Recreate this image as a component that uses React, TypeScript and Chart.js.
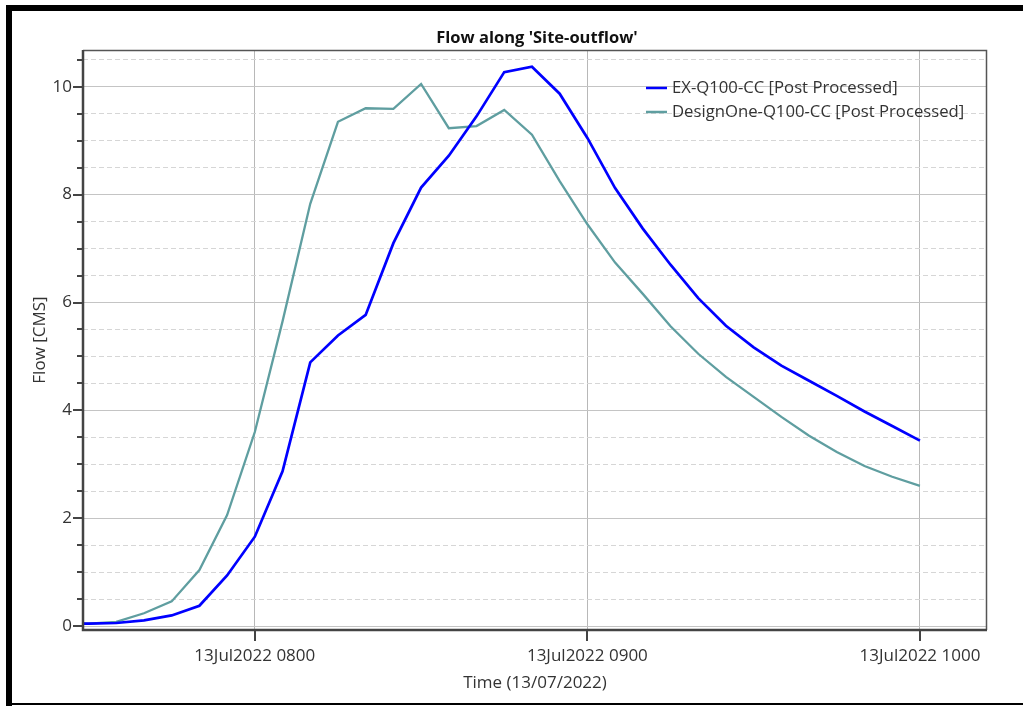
import React, { useEffect, useRef } from 'react';
import { Chart, registerables } from 'chart.js';

Chart.register(...registerables);

// ---- data ----
const times = [
  '07:25', '07:30', '07:35', '07:40', '07:45', '07:50', '07:55', '08:00',
  '08:05', '08:10', '08:15', '08:20', '08:25', '08:30', '08:35', '08:40',
  '08:45', '08:50', '08:55', '09:00', '09:05', '09:10', '09:15', '09:20',
  '09:25', '09:30', '09:35', '09:40', '09:45', '09:50', '09:55', '10:00',
];
const exFlow = [
  0.04, 0.05, 0.06, 0.11, 0.2, 0.38, 0.94, 1.66,
  2.87, 4.89, 5.39, 5.77, 7.1, 8.13, 8.72, 9.45,
  10.27, 10.37, 9.87, 9.05, 8.12, 7.37, 6.7, 6.08,
  5.57, 5.17, 4.83, 4.55, 4.27, 3.98, 3.71, 3.44,
];
const designFlow = [
  0.04, 0.05, 0.08, 0.24, 0.46, 1.04, 2.06, 3.6,
  5.65, 7.83, 9.35, 9.6, 9.59, 10.05, 9.23, 9.27,
  9.57, 9.11, 8.25, 7.45, 6.74, 6.16, 5.56, 5.05,
  4.62, 4.25, 3.88, 3.53, 3.23, 2.97, 2.77, 2.6,
];
const seriesLabels = ['EX-Q100-CC [Post Processed]', 'DesignOne-Q100-CC [Post Processed]'];
const seriesColors = ['#0000ff', '#5f9ea0'];
const xTickTimes = ['08:00', '09:00', '10:00'];
const xTickLabels = ['13Jul2022 0800', '13Jul2022 0900', '13Jul2022 1000'];
const yTickLabels = ['0', '2', '4', '6', '8', '10'];
const yMinorStep = 0.5;
const chartTitle = "Flow along 'Site-outflow'";
const xAxisTitle = 'Time (13/07/2022)';
const yAxisTitle = 'Flow [CMS]';

const FONT = "'Open Sans', 'Noto Sans', sans-serif";

function toMinutes(t: string): number {
  const [h, m] = t.split(':').map(Number);
  return (h - 7) * 60 + m;
}

const xTickValues = xTickTimes.map(toMinutes);
const yTickValues = yTickLabels.map(Number);

const decorPlugin = {
  id: 'decor',
  afterDraw(chart: any) {
    const { ctx, chartArea: a, scales } = chart;
    const xs = scales.x;
    const ys = scales.y;
    ctx.save();

    // plot frame
    ctx.strokeStyle = '#555555';
    ctx.lineWidth = 1.5;
    ctx.beginPath();
    ctx.moveTo(a.left, a.top + 0.5);
    ctx.lineTo(a.right - 0.5, a.top + 0.5);
    ctx.lineTo(a.right - 0.5, a.bottom);
    ctx.stroke();
    ctx.strokeStyle = '#444444';
    ctx.lineWidth = 2.5;
    ctx.beginPath();
    ctx.moveTo(a.left, a.top);
    ctx.lineTo(a.left, a.bottom);
    ctx.lineTo(a.right, a.bottom);
    ctx.stroke();

    // y tick marks
    ctx.strokeStyle = '#444444';
    ctx.lineWidth = 2;
    for (const t of ys.ticks) {
      const y = Math.round(ys.getPixelForValue(t.value));
      const major = yTickValues.some((v) => Math.abs(v - t.value) < 1e-6);
      ctx.beginPath();
      ctx.moveTo(a.left - (major ? 10 : 6), y);
      ctx.lineTo(a.left, y);
      ctx.stroke();
    }
    // x tick marks
    for (const v of xTickValues) {
      const x = Math.round(xs.getPixelForValue(v));
      ctx.beginPath();
      ctx.moveTo(x, a.bottom);
      ctx.lineTo(x, a.bottom + 11);
      ctx.stroke();
    }

    // title
    ctx.fillStyle = '#111111';
    ctx.font = `bold 16.5px ${FONT}`;
    ctx.textAlign = 'center';
    ctx.textBaseline = 'middle';
    ctx.fillText(chartTitle, 537, 38);

    // axis titles
    ctx.fillStyle = '#333333';
    ctx.font = `17px ${FONT}`;
    ctx.fillText(xAxisTitle, (a.left + a.right) / 2, 683);
    ctx.save();
    ctx.translate(40, (a.top + a.bottom) / 2);
    ctx.rotate(-Math.PI / 2);
    ctx.fillText(yAxisTitle, 0, 0);
    ctx.restore();

    // legend
    ctx.textAlign = 'left';
    ctx.font = `16.7px ${FONT}`;
    seriesLabels.forEach((lab, i) => {
      const y = 88 + i * 24;
      ctx.strokeStyle = seriesColors[i];
      ctx.lineWidth = 2.5;
      ctx.beginPath();
      ctx.moveTo(646, y);
      ctx.lineTo(667, y);
      ctx.stroke();
      ctx.fillStyle = '#333333';
      ctx.fillText(lab, 672, y);
    });

    // outer black border
    ctx.fillStyle = '#000000';
    ctx.fillRect(6, 5, 1023 - 6, 6);
    ctx.fillRect(6, 5, 6, 706 - 5);
    ctx.fillRect(6, 703, 1023 - 6, 2);

    ctx.restore();
  },
};

export default function App() {
  const ref = useRef<HTMLCanvasElement | null>(null);

  useEffect(() => {
    if (!ref.current) return;
    const mins = times.map(toMinutes);
    const chart = new Chart(ref.current, {
      type: 'line',
      data: {
        datasets: [
          {
            label: seriesLabels[0],
            data: mins.map((m, i) => ({ x: m, y: exFlow[i] })),
            borderColor: seriesColors[0],
            borderWidth: 2.7,
            pointRadius: 0,
            tension: 0,
            fill: false,
          },
          {
            label: seriesLabels[1],
            data: mins.map((m, i) => ({ x: m, y: designFlow[i] })),
            borderColor: seriesColors[1],
            borderWidth: 2.3,
            pointRadius: 0,
            tension: 0,
            fill: false,
          },
        ],
      },
      options: {
        animation: false,
        responsive: false,
        layout: { padding: { left: 0, top: 50, right: 36, bottom: 0 } },
        plugins: {
          legend: { display: false },
          title: { display: false },
          tooltip: { enabled: false },
        },
        scales: {
          x: {
            type: 'linear',
            min: 29,
            max: 192.1,
            afterBuildTicks: (s: any) => {
              s.ticks = xTickValues.map((v) => ({ value: v }));
            },
            afterFit: (s: any) => {
              s.height = 76;
            },
            ticks: {
              autoSkip: false,
              maxRotation: 0,
              padding: 16,
              color: '#333333',
              font: { family: FONT, size: 17 },
              callback: (v: any) => {
                const idx = xTickValues.indexOf(Number(v));
                return idx >= 0 ? xTickLabels[idx] : '';
              },
            },
            grid: { color: '#b8b8b8', lineWidth: 1, drawTicks: false },
            border: { display: false },
          },
          y: {
            type: 'linear',
            min: -0.07,
            max: 10.68,
            afterBuildTicks: (s: any) => {
              const arr: any[] = [];
              for (let v = 0; v <= 10.5 + 1e-9; v += yMinorStep) arr.push({ value: Math.round(v * 10) / 10 });
              s.ticks = arr;
            },
            afterFit: (s: any) => {
              s.width = 83;
            },
            ticks: {
              autoSkip: false,
              padding: 11,
              color: '#333333',
              font: { family: FONT, size: 17 },
              callback: (v: any) => {
                const idx = yTickValues.findIndex((t) => Math.abs(t - Number(v)) < 1e-6);
                return idx >= 0 ? yTickLabels[idx] : '';
              },
            },
            grid: {
              drawTicks: false,
              lineWidth: 1,
              color: (c: any) => {
                const v = c.tick ? c.tick.value : 0;
                return yTickValues.some((t) => Math.abs(t - v) < 1e-6) ? '#c4c4c4' : '#d6d6d6';
              },
            },
            border: {
              display: false,
              dash: (c: any) => {
                if (!c.tick) return [];
                const v = c.tick.value;
                return yTickValues.some((t) => Math.abs(t - v) < 1e-6) ? [] : [5, 3];
              },
            },
          },
        },
      },
      plugins: [decorPlugin],
    } as any);
    return () => chart.destroy();
  }, []);

  return (
    <div style={{ position: 'absolute', left: 0, top: 0, width: 1023, height: 706, background: '#ffffff' }}>
      <canvas ref={ref} width={1023} height={706} style={{ display: 'block' }} />
    </div>
  );
}
